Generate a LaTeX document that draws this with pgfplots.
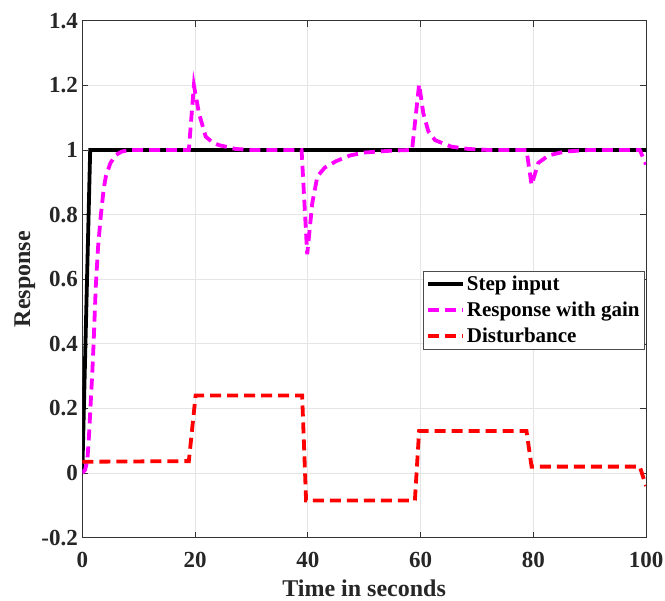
\documentclass[border=0pt]{standalone}
\usepackage{fontspec}
\setmainfont{Liberation Serif}
\usepackage{pgfplots}
\pgfplotsset{compat=1.18}
\definecolor{magentaL}{RGB}{255,0,255}
\begin{document}
\begin{tikzpicture}
\begin{axis}[
  name=ax,
  scale only axis,
  width=563.7pt, height=517pt,
  xmin=0, xmax=100, ymin=-0.2, ymax=1.4,
  xtick={0,20,40,60,80,100},
  ytick={-0.2,0,0.2,0.4,0.6,0.8,1,1.2,1.4},
  /pgf/number format/assume math mode=true,
  tick label style={font=\fontsize{23}{23}\selectfont\bfseries, text=black!85},
  xticklabel style={yshift=-11pt},
  yticklabel style={xshift=-1pt},
  tick align=inside,
  major tick length=6pt,
  tick style={black!80, line width=0.6pt},
  axis line style={black!80, line width=0.7pt},
  grid=major,
  major grid style={black!10, line width=0.8pt},
  xlabel={Time in seconds},
  ylabel={Response},
  label style={font=\fontsize{24}{24}\selectfont\bfseries, text=black!85},
  xlabel style={at={(axis description cs:0.5,-0.1145)}, anchor=base},
  ylabel style={at={(axis description cs:-0.083,0.5)}, anchor=south, inner sep=0pt},
  legend style={at={(rel axis cs:0.998,0.516)}, anchor=north east,
    draw=black!70, line width=0.6pt, fill=white,
    font=\fontsize{21}{22}\selectfont\bfseries, inner xsep=3pt, inner ysep=3pt,
    row sep=6pt,
    nodes={inner xsep=2pt}},
  legend cell align=left,
  legend image code/.code={\draw[#1] (0pt,0pt) -- (35pt,0pt);},
]
\addplot[black, line width=3.8pt] coordinates {(0,0) (1.4,1) (100,1)};
\addlegendentry{Step input}
\addplot[magentaL, line width=3.8pt, dash pattern=on 11pt off 6pt] coordinates {
(0,0) (0.5,0.01) (0.9,0.04) (1.2,0.12) (1.5,0.22) (1.8,0.32) (2.0,0.40)
(2.4,0.58) (2.8,0.70) (3.3,0.80) (3.8,0.88) (4.2,0.92) (5.0,0.96) (6.0,0.985)
(7.0,0.995) (8.5,1.0) (18.9,1.0) (19.8,1.20) (20.7,1.113) (21.9,1.041)
(23.0,1.025) (24.2,1.015) (27.2,1.003) (30,1.0) (38.9,1.0) (39.9,0.677)
(40.8,0.836) (41.7,0.918) (43,0.945) (45,0.965) (47.5,0.983) (50,0.992)
(55,0.998) (58.5,1.0) (59.75,1.203) (60.5,1.113) (61.4,1.057) (62.6,1.03)
(65.5,1.01) (68.5,1.003) (72,1.0) (78.8,1.0) (79.7,0.892) (80.9,0.96)
(82.7,0.983) (85.6,0.995) (90,1.0) (98.9,1.0) (100,0.955)};
\addlegendentry{Response with gain}
\addplot[red, line width=3.8pt, dash pattern=on 11pt off 6pt] coordinates {
(0,0.035) (18.9,0.037) (20.1,0.24) (39,0.24) (39.7,-0.085) (59,-0.085)
(59.75,0.13) (78.8,0.13) (79.7,0.02) (98.9,0.02) (100,-0.04)};
\addlegendentry{Disturbance}
\end{axis}
\pgfresetboundingbox
\path ([shift={(-82.3pt,-63.3pt)}]ax.south west) rectangle ++(665pt,601pt);
\end{tikzpicture}
\end{document}
